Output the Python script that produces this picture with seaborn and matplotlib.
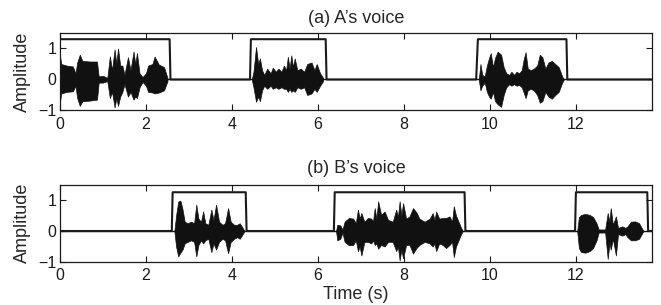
import matplotlib
matplotlib.use("Agg")
import matplotlib.pyplot as plt
import seaborn as sns
import numpy as np
import pandas as pd

# ---------------- data ----------------
# Voice activity boxes (time, level)
a_box_t = [0.0, 2.55, 2.57, 4.42, 4.44, 6.18, 6.20, 9.68, 9.72, 11.78, 11.80, 13.77]
a_box_v = [1.30, 1.30, 0.0, 0.0, 1.30, 1.30, 0.0, 0.0, 1.30, 1.30, 0.0, 0.0]
b_box_t = [0.0, 2.60, 2.62, 4.32, 4.34, 6.37, 6.39, 9.41, 9.43, 11.98, 12.00, 13.66, 13.68, 13.77]
b_box_v = [0.0, 0.0, 1.25, 1.25, 0.0, 0.0, 1.25, 1.25, 0.0, 0.0, 1.25, 1.25, 0.0, 0.0]

# Speech waveform envelope for A: time, upper, lower
a_t = [0.00, 0.03, 0.15, 0.30, 0.36, 0.40, 0.46, 0.52, 0.70, 0.86, 0.90, 1.00, 1.10,
       1.16, 1.21, 1.27, 1.31, 1.35, 1.40, 1.45, 1.50, 1.58, 1.64, 1.71, 1.75, 1.79,
       1.85, 1.92, 2.00, 2.05, 2.15, 2.20, 2.30, 2.42, 2.50,
       4.46, 4.50, 4.56, 4.61, 4.65, 4.70, 4.75, 4.82, 4.90, 4.95, 5.02, 5.08, 5.15,
       5.21, 5.26, 5.30, 5.34, 5.38, 5.42, 5.46, 5.52, 5.60, 5.68, 5.75, 5.85, 5.92,
       5.97, 6.05, 6.12,
       9.74, 9.78, 9.82, 9.88, 9.93, 9.98, 10.02, 10.07, 10.12, 10.18, 10.26, 10.32,
       10.38, 10.45, 10.50, 10.56, 10.62, 10.68, 10.74, 10.78, 10.83, 10.88, 10.95,
       11.02, 11.10, 11.16, 11.22, 11.29, 11.36, 11.44, 11.52, 11.60, 11.68, 11.72]
a_up = [0.75, 0.50, 0.45, 0.42, 0.20, 0.55, 0.80, 0.60, 0.58, 0.58, 0.10, 0.12, 0.05,
        0.75, 0.30, 0.97, 0.50, 1.00, 0.45, 0.45, 0.15, 0.72, 0.30, 0.90, 0.50, 0.85,
        0.20, 0.08, 0.20, 0.45, 0.50, 0.74, 0.48, 0.40, 0.05,
        0.00, 0.25, 1.05, 0.50, 0.68, 0.30, 0.15, 0.35, 0.20, 0.38, 0.25, 0.35, 0.25,
        0.45, 0.30, 0.73, 0.35, 0.78, 0.40, 0.68, 0.30, 0.35, 0.25, 0.50, 0.55, 0.30,
        0.50, 0.20, 0.05,
        0.00, 0.50, 0.15, 0.10, 0.45, 0.70, 0.85, 0.40, 0.70, 0.90, 0.80, 0.40,
        0.20, 0.15, 0.25, 0.15, 0.25, 0.20, 0.30, 0.62, 0.88, 0.35, 0.30,
        0.35, 0.45, 0.80, 0.72, 0.35, 0.55, 0.60, 0.50, 0.40, 0.10, 0.00]
a_lo = [-0.70, -0.45, -0.40, -0.38, -0.20, -0.60, -0.85, -0.70, -0.68, -0.65, -0.10, -0.10, -0.05,
        -0.60, -0.40, -0.90, -0.60, -0.85, -0.55, -0.40, -0.15, -0.55, -0.40, -0.65, -0.55, -0.60,
        -0.25, -0.08, -0.20, -0.40, -0.42, -0.45, -0.42, -0.35, -0.05,
        0.00, -0.25, -0.72, -0.55, -0.70, -0.35, -0.20, -0.30, -0.20, -0.30, -0.25, -0.30, -0.25,
        -0.30, -0.30, -0.40, -0.30, -0.40, -0.35, -0.40, -0.25, -0.30, -0.25, -0.50, -0.45, -0.30,
        -0.40, -0.20, -0.05,
        0.00, -0.35, -0.20, -0.10, -0.40, -0.55, -0.62, -0.40, -0.70, -0.80, -0.88, -0.50,
        -0.25, -0.15, -0.20, -0.15, -0.20, -0.18, -0.25, -0.40, -0.60, -0.35, -0.30,
        -0.35, -0.50, -0.75, -0.70, -0.40, -0.55, -0.62, -0.50, -0.40, -0.10, 0.00]

# Speech waveform envelope for B: time, upper, lower
b_t = [2.66, 2.70, 2.75, 2.80, 2.85, 2.90, 2.97, 3.05, 3.12, 3.17, 3.22, 3.28, 3.33,
       3.38, 3.45, 3.52, 3.57, 3.63, 3.70, 3.78, 3.84, 3.91, 3.97, 4.05, 4.12, 4.18,
       4.25, 4.29,
       6.42, 6.45, 6.52, 6.57, 6.62, 6.72, 6.82, 6.88, 6.93, 6.97, 7.01, 7.08, 7.16,
       7.24, 7.28, 7.32, 7.36, 7.40, 7.47, 7.55, 7.63, 7.74, 7.82, 7.86, 7.90, 7.94,
       7.98, 8.05, 8.13, 8.21, 8.29, 8.36, 8.48, 8.60, 8.67, 8.71, 8.75, 8.82, 8.90,
       8.98, 9.06, 9.12, 9.16, 9.21, 9.27, 9.33, 9.37,
       12.03, 12.07, 12.12, 12.22, 12.32, 12.40, 12.48, 12.53, 12.68, 12.74, 12.78,
       12.81, 12.86, 12.93, 12.98, 13.08, 13.15, 13.20, 13.28, 13.38, 13.47, 13.55, 13.58]
b_up = [0.00, 0.50, 0.95, 0.98, 0.70, 0.30, 0.25, 0.30, 0.25, 0.85, 0.40, 0.30, 0.63,
        0.25, 0.20, 0.69, 0.35, 0.85, 0.30, 0.20, 0.25, 0.74, 0.30, 0.20, 0.20, 0.25,
        0.10, 0.00,
        0.00, 0.20, 0.18, 0.05, 0.30, 0.42, 0.40, 0.25, 0.69, 0.40, 0.58, 0.30, 0.42,
        0.40, 0.30, 0.74, 0.40, 0.96, 0.52, 0.63, 0.36, 0.30, 0.69, 0.45, 0.96, 0.50,
        0.90, 0.40, 0.47, 0.74, 0.60, 0.40, 0.30, 0.40, 0.58, 0.35, 0.63, 0.40, 0.42,
        0.42, 0.47, 0.30, 0.80, 0.50, 0.30, 0.10, 0.00,
        0.00, 0.45, 0.52, 0.55, 0.52, 0.45, 0.25, 0.05, 0.05, 0.58, 0.30,
        0.74, 0.20, 0.47, 0.10, 0.15, 0.10, 0.15, 0.30, 0.31, 0.25, 0.05, 0.00]
b_lo = [0.00, -0.50, -0.82, -0.70, -0.60, -0.40, -0.35, -0.30, -0.35, -0.82, -0.45, -0.30, -0.40,
        -0.30, -0.25, -0.68, -0.40, -0.60, -0.35, -0.25, -0.30, -0.72, -0.35, -0.25, -0.20, -0.25,
        -0.10, 0.00,
        0.00, -0.30, -0.25, -0.05, -0.35, -0.46, -0.45, -0.30, -0.65, -0.50, -0.79, -0.35, -0.35,
        -0.40, -0.30, -0.45, -0.40, -0.57, -0.45, -0.50, -0.35, -0.35, -0.65, -0.50, -0.95, -0.60,
        -0.88, -0.45, -0.45, -0.73, -0.55, -0.45, -0.35, -0.40, -0.50, -0.40, -0.65, -0.40, -0.45,
        -0.55, -0.45, -0.35, -0.84, -0.50, -0.30, -0.10, 0.00,
        0.00, -0.55, -0.68, -0.70, -0.65, -0.55, -0.30, -0.05, -0.05, -0.90, -0.40,
        -0.60, -0.25, -0.79, -0.10, -0.15, -0.10, -0.20, -0.30, -0.30, -0.25, -0.05, 0.00]

x_ticks = [0, 2, 4, 6, 8, 10, 12]
y_ticks = [-1, 0, 1]
titles = ["(a) A\u2019s voice", "(b) B\u2019s voice"]

# ---------------- style ----------------
sns.set_style("ticks")
plt.rcParams["font.family"] = ["Liberation Sans", "DejaVu Sans"]
plt.rcParams["axes.linewidth"] = 0.9
plt.rcParams["xtick.direction"] = "in"
plt.rcParams["ytick.direction"] = "in"

fig = plt.figure(figsize=(6.61, 3.05), dpi=100)
ax_a = fig.add_axes([60 / 661, 1 - 110.5 / 305, 592 / 661, 77.5 / 305])
ax_b = fig.add_axes([60 / 661, 1 - 262.0 / 305, 592 / 661, 77.5 / 305])

panels = [
    (ax_a, a_t, a_up, a_lo, a_box_t, a_box_v, titles[0], 7),
    (ax_b, b_t, b_up, b_lo, b_box_t, b_box_v, titles[1], 8.5),
]

for ax, t, up, lo, bt, bv, title, tpad in panels:
    env = pd.DataFrame({"t": t, "up": up, "lo": lo})
    # draw each voiced segment as a filled envelope
    seg_id = (env["t"].diff() > 0.5).cumsum()
    for _, seg in env.groupby(seg_id):
        ax.fill_between(seg["t"], seg["lo"], seg["up"], color="#111111", lw=0.5,
                        edgecolor="#111111")
    # zero baseline of the waveform
    ax.axhline(0, color="#111111", lw=1.0, zorder=1)
    box = pd.DataFrame({"t": bt, "v": bv})
    sns.lineplot(data=box, x="t", y="v", ax=ax, color="#1a1a1a", lw=1.5,
                 sort=False, estimator=None)
    ax.set_xlim(0, 13.77)
    ax.set_ylim(-1, 1.5)
    ax.set_xticks(x_ticks)
    ax.set_yticks(y_ticks)
    ax.set_yticklabels(["\u22121", "0", "1"])
    ax.tick_params(axis="both", which="both", top=True, right=True,
                   length=4, width=0.8, labelsize=11.5, colors="#1a1a1a")
    ax.tick_params(axis="x", pad=4.5)
    ax.tick_params(axis="y", pad=2.5)
    ax.set_title(title, fontsize=13, pad=tpad)
    ax.set_ylabel("Amplitude", fontsize=13, labelpad=5)
    ax.set_xlabel("")
    for sp in ax.spines.values():
        sp.set_visible(True)
        sp.set_color("#1a1a1a")

ax_b.set_xlabel("Time (s)", fontsize=13, labelpad=2)

fig.savefig("out.png", dpi=100)
